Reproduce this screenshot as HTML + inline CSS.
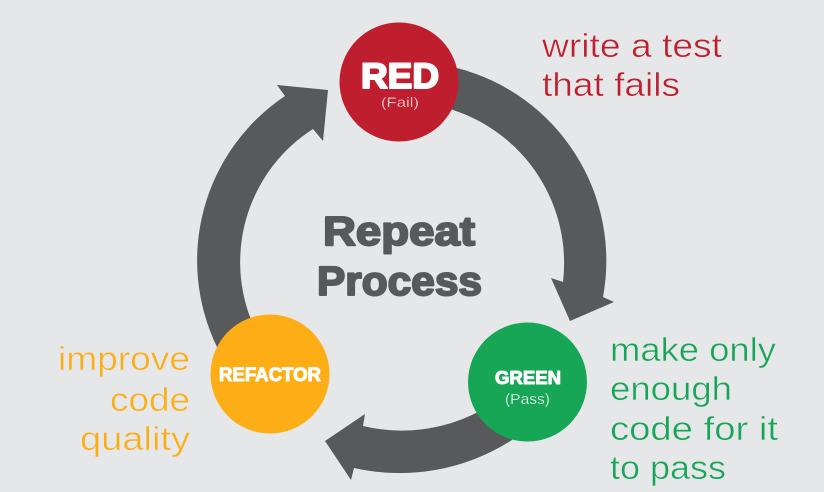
<!DOCTYPE html>
<html>
<head>
<meta charset="utf-8">
<style>
html,body{margin:0;padding:0;background:#e6e7e8;}
svg{display:block;}
text{font-family:"Liberation Sans",sans-serif;}
.b{font-weight:bold;stroke-linejoin:round;}
.l{stroke:#e6e7e8;stroke-width:0.5;}
</style>
</head>
<body>
<svg width="824" height="492" viewBox="0 0 824 492" xmlns="http://www.w3.org/2000/svg">
<rect width="824" height="492" fill="#e6e7e8"/>
<g fill="#58595b">
<path d="M457 68 A199 199 0 0 1 603 297 L614 302 L570 321 L551 278 L563 282 A161 161 0 0 0 453 110 L420 90 Z"/>
<path d="M512 440 A208 208 0 0 1 354 468 L351 480 L325 441 L365 414 L363 426 A166 166 0 0 0 476 413 L520 390 Z"/>
<path d="M217 347 A198 198 0 0 1 285 96 L277 85 L328 90 L323 141 L313 129 A158 158 0 0 0 250 317 L270 370 Z"/>
</g>
<circle cx="399" cy="82" r="59.5" fill="#be1e2d"/>
<circle cx="527.5" cy="382" r="59.5" fill="#17a556"/>
<circle cx="270" cy="374" r="59.5" fill="#fdae16"/>
<text class="b" x="361" y="88" font-size="35" fill="#fff" stroke="#fff" stroke-width="2" textLength="78" lengthAdjust="spacingAndGlyphs">RED</text>
<text x="381" y="107" font-size="14" fill="#f3d5d8" stroke="#be1e2d" stroke-width="0.2" textLength="38" lengthAdjust="spacingAndGlyphs">(Fail)</text>
<text class="b" x="495" y="384" font-size="18" fill="#fff" stroke="#fff" stroke-width="1" textLength="66" lengthAdjust="spacingAndGlyphs">GREEN</text>
<text x="505" y="404" font-size="15" fill="#e6f5ec" stroke="#17a556" stroke-width="0.2" textLength="45" lengthAdjust="spacingAndGlyphs">(Pass)</text>
<text class="b" x="219" y="381" font-size="19" fill="#fff" stroke="#fff" stroke-width="1" textLength="102" lengthAdjust="spacingAndGlyphs">REFACTOR</text>
<text class="b" x="323" y="245" font-size="41" fill="#58595b" stroke="#58595b" stroke-width="2" textLength="152" lengthAdjust="spacingAndGlyphs">Repeat</text>
<text class="b" x="317" y="295" font-size="41" fill="#58595b" stroke="#58595b" stroke-width="2" textLength="165" lengthAdjust="spacingAndGlyphs">Process</text>
<g font-size="33" fill="#be1e2d" class="l">
<text x="542" y="57" textLength="180" lengthAdjust="spacingAndGlyphs">write a test</text>
<text x="542" y="96" textLength="138" lengthAdjust="spacingAndGlyphs">that fails</text>
</g>
<g font-size="33" fill="#fdae16" class="l">
<text x="58" y="370" textLength="132" lengthAdjust="spacingAndGlyphs">improve</text>
<text x="110" y="411" textLength="80" lengthAdjust="spacingAndGlyphs">code</text>
<text x="80" y="450" textLength="110" lengthAdjust="spacingAndGlyphs">quality</text>
</g>
<g font-size="33" fill="#17a556" class="l">
<text x="610" y="361" textLength="166" lengthAdjust="spacingAndGlyphs">make only</text>
<text x="610" y="400" textLength="122" lengthAdjust="spacingAndGlyphs">enough</text>
<text x="610" y="440" textLength="168" lengthAdjust="spacingAndGlyphs">code for it</text>
<text x="610" y="479" textLength="116" lengthAdjust="spacingAndGlyphs">to pass</text>
</g>
</svg>
</body>
</html>
